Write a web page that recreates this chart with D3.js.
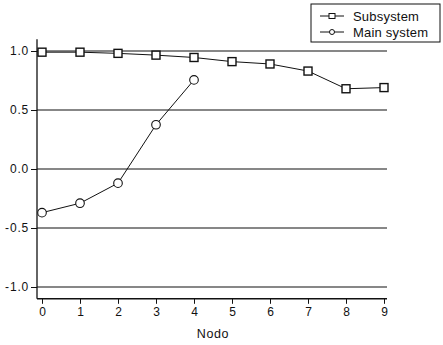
<!DOCTYPE html>
<html>
<head>
<meta charset="utf-8">
<script src="https://cdn.jsdelivr.net/npm/d3@7"></script>
<style>
  body { margin: 0; background: #fff; }
  svg { display: block; font-family: "Liberation Sans", Arial, sans-serif; }
</style>
</head>
<body>
<svg width="443" height="345"></svg>
<script>
const nodes = [0, 1, 2, 3, 4, 5, 6, 7, 8, 9];
const subsystem = [0.99, 0.99, 0.98, 0.965, 0.945, 0.91, 0.89, 0.83, 0.68, 0.69];
const mainNodes = [0, 1, 2, 3, 4];
const mainSystem = [-0.37, -0.29, -0.12, 0.375, 0.755];
const yTicks = [-1.0, -0.5, 0.0, 0.5, 1.0];
const legendLabels = ["Subsystem", "Main system"];

const svg = d3.select("svg");

const x = d3.scaleLinear().domain([0, 9]).range([42, 384]);
const y = d3.scaleLinear().domain([-1.1, 1.1]).range([298.8, 39.2]);
const left = 37, right = 387;

// gridlines
svg.append("g").selectAll("line")
    .data(yTicks)
    .join("line")
    .attr("x1", left).attr("x2", right)
    .attr("y1", d => y(d)).attr("y2", d => y(d))
    .attr("stroke", "#111").attr("stroke-width", 1.2);

// y axis
const yAxis = svg.append("g")
    .attr("transform", `translate(${left},0)`)
    .call(d3.axisLeft(y).tickValues(yTicks).tickSize(6).tickPadding(2));
yAxis.select(".domain").remove();
yAxis.append("line")
    .attr("x1", 0).attr("x2", 0)
    .attr("y1", y.range()[1]).attr("y2", y.range()[0])
    .attr("stroke", "#111").attr("stroke-width", 1.3);
yAxis.selectAll(".tick line").attr("stroke", "#111");
yAxis.selectAll(".tick text")
    .text(d => d3.format(".1f")(d).replace("−", "-"))
    .attr("font-size", 12).attr("letter-spacing", 0.8).attr("fill", "#111");

// x axis
const xAxis = svg.append("g")
    .attr("transform", `translate(0,${y.range()[0]})`)
    .call(d3.axisBottom(x).tickValues(nodes).tickSize(5).tickPadding(4));
xAxis.select(".domain").remove();
xAxis.append("line")
    .attr("x1", left).attr("x2", right)
    .attr("y1", 0).attr("y2", 0)
    .attr("stroke", "#111").attr("stroke-width", 1.6);
xAxis.selectAll(".tick line").attr("stroke", "#111");
xAxis.selectAll(".tick text").attr("font-size", 12).attr("fill", "#111");

svg.append("text")
    .attr("x", (x(0) + x(9)) / 2).attr("y", 338)
    .attr("text-anchor", "middle")
    .attr("font-size", 12.5).attr("letter-spacing", 0.6).attr("fill", "#111")
    .text("Nodo");

const line = d3.line().x(d => x(d[0])).y(d => y(d[1]));

// subsystem
const subData = nodes.map((n, i) => [n, subsystem[i]]);
svg.append("path").datum(subData)
    .attr("d", line).attr("fill", "none").attr("stroke", "#111").attr("stroke-width", 1);
svg.append("g").selectAll("rect")
    .data(subData)
    .join("rect")
    .attr("x", d => x(d[0]) - 4).attr("y", d => y(d[1]) - 4)
    .attr("width", 8).attr("height", 8)
    .attr("fill", "#fff").attr("stroke", "#111").attr("stroke-width", 1.4);

// main system
const mainData = mainNodes.map((n, i) => [n, mainSystem[i]]);
svg.append("path").datum(mainData)
    .attr("d", line).attr("fill", "none").attr("stroke", "#111").attr("stroke-width", 1);
svg.append("g").selectAll("circle")
    .data(mainData)
    .join("circle")
    .attr("cx", d => x(d[0])).attr("cy", d => y(d[1]))
    .attr("r", 4.3)
    .attr("fill", "#fff").attr("stroke", "#111").attr("stroke-width", 1.1);

// legend
const legend = svg.append("g");
legend.append("rect")
    .attr("x", 311).attr("y", 4).attr("width", 129).attr("height", 38)
    .attr("fill", "#fff").attr("stroke", "#111").attr("stroke-width", 1);
legendLabels.forEach((label, i) => {
    const ly = 16 + i * 16;
    legend.append("line")
        .attr("x1", 320).attr("x2", 344).attr("y1", ly).attr("y2", ly)
        .attr("stroke", "#111");
    if (i === 0) {
        legend.append("rect")
            .attr("x", 329).attr("y", ly - 2.5).attr("width", 6).attr("height", 5)
            .attr("fill", "#fff").attr("stroke", "#111");
    } else {
        legend.append("circle")
            .attr("cx", 332).attr("cy", ly).attr("r", 2.5)
            .attr("fill", "#fff").attr("stroke", "#111");
    }
    legend.append("text")
        .attr("x", 353).attr("y", ly + 4.5)
        .attr("font-size", 13).attr("letter-spacing", 0.2).attr("fill", "#111")
        .text(label);
});
</script>
</body>
</html>
